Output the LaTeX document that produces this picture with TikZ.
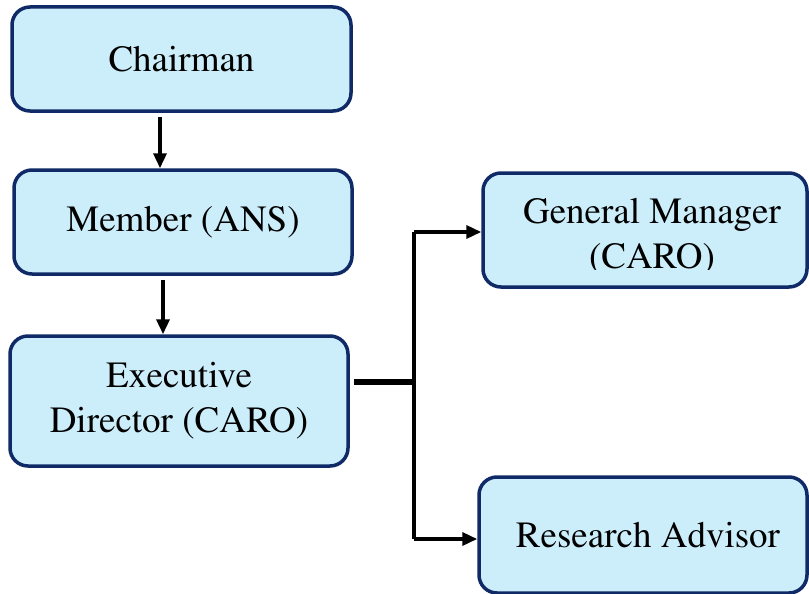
\documentclass[tikz,border=0pt]{standalone}
\usepackage[T1]{fontenc}
\usepackage{mathptmx}
\usetikzlibrary{arrows.meta}
\definecolor{boxfill}{HTML}{CCEEFB}
\definecolor{boxline}{HTML}{0F2A66}

\tikzset{
    unit/.style={draw=boxline, fill=boxfill, line width=3.5pt, rounded corners=18pt,
        align=center, inner sep=0pt, font=\fontsize{37}{45}\selectfont},
    link/.style={line width=3.5pt, -{Triangle[length=15pt, width=13pt]}},
}

\begin{document}
\begin{tikzpicture}[x=1pt, y=-1pt]
    \useasboundingbox (0, 0) rectangle (809, 594);

    \node[unit, minimum width=339pt, minimum height=104pt] (chair) at (181.5, 59) {Chairman};
    \node[unit, minimum width=338pt, minimum height=104pt] (member) at (183, 222) {Member (ANS)};
    \node[unit, minimum width=338pt, minimum height=130pt] (exec) at (179, 401) {Executive\\Director (CARO)};
    \node[unit, minimum width=324pt, minimum height=114pt] (gm) at (645, 230) {};
    \node[unit, minimum width=328pt, minimum height=116pt] (ra) at (643, 535) {\hspace*{10pt}Research Advisor};

    % second line of the manager box is cut off
    \begin{scope}
        \clip (483, 173) rectangle (807, 269);
        \node[align=center, inner sep=0pt, font=\fontsize{37}{45}\selectfont] (gmtext) at (652, 237) {General Manager\\(CARO)};
    \end{scope}

    % vertical chain
    \coordinate (c1) at (160, 117);
    \coordinate (m1) at (163, 280);
    \draw[link] (c1) -- (c1 |- member.north);
    \draw[link] (m1) -- (m1 |- exec.north);

    % branch to the right
    \coordinate (bus) at (414, 382);
    \coordinate (top) at (414, 232);
    \coordinate (bottom) at (414, 539);
    \draw[line width=6.5pt, shorten <=4pt] (exec.east |- bus) -- (bus);
    \draw[line width=3.5pt] (top) -- (bottom);
    \draw[link] (top) -- (top -| gm.west);
    \draw[link] (bottom) -- (bottom -| ra.west);

\end{tikzpicture}
\end{document}
